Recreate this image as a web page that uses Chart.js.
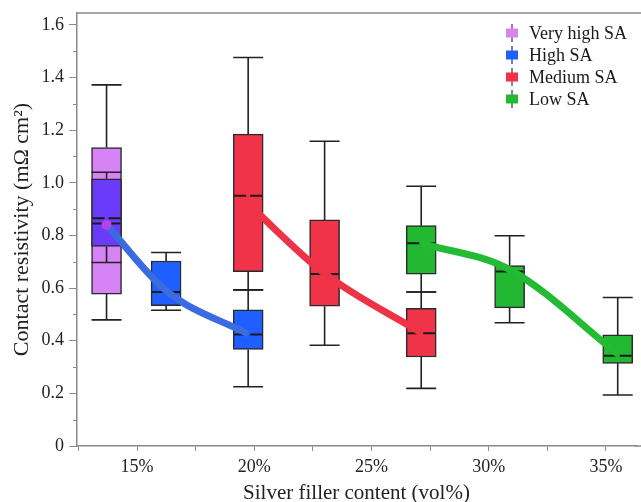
<!DOCTYPE html>
<html>
<head>
<meta charset="utf-8">
<script src="https://cdn.jsdelivr.net/npm/chart.js@4"></script>
<style>
  body { margin: 0; background: #fff; }
  #wrap { width: 641px; height: 502px; }
</style>
</head>
<body>
<div id="wrap"><canvas id="chart" width="641" height="502"></canvas></div>
<script>
// dados (box plots por série)
const seriesNames = ['Very high SA', 'High SA', 'Medium SA', 'Low SA'];
const seriesColors = ['#d683f6', '#1f5eff', '#f03349', '#22b832'];

const vhX = [13.7];
const vhMin = [0.479];
const vhQ1 = [0.577];
const vhMed = [0.865];
const vhQ3 = [1.134];
const vhMax = [1.372];

const hiX = [13.7, 16.24, 19.74];
const hiMin = [0.697, 0.516, 0.225];
const hiQ1 = [0.758, 0.533, 0.367];
const hiMed = [0.845, 0.585, 0.424];
const hiQ3 = [1.015, 0.703, 0.517];
const hiMax = [1.04, 0.735, 0.593];
const hiTrend = [0.84, 0.59, 0.425];

const mdX = [19.74, 23.0, 27.12];
const mdMin = [0.593, 0.383, 0.219];
const mdQ1 = [0.662, 0.531, 0.338];
const mdMed = [0.951, 0.653, 0.428];
const mdQ3 = [1.185, 0.859, 0.523];
const mdMax = [1.476, 1.158, 0.585];
const mdTrend = [0.92, 0.655, 0.43];

const loX = [27.12, 30.89, 35.5];
const loMin = [0.585, 0.468, 0.194];
const loQ1 = [0.653, 0.525, 0.314];
const loMed = [0.770, 0.663, 0.343];
const loQ3 = [0.837, 0.685, 0.422];
const loMax = [0.987, 0.799, 0.564];
const loTrend = [0.77, 0.67, 0.35];

const xTicks = [12.5, 15, 17.5, 20, 22.5, 25, 27.5, 30, 32.5, 35];
const yTicks = [0, 0.1, 0.2, 0.3, 0.4, 0.5, 0.6, 0.7, 0.8, 0.9, 1.0, 1.1, 1.2, 1.3, 1.4, 1.5, 1.6];

const serif = "'Liberation Serif', 'Times New Roman', serif";
const axisGray = '#8a8a8a';

function boxData(xs, q1, q3) {
  return xs.map((x, i) => ({ x: x, y: [q1[i], q3[i]] }));
}
function trendData(xs, ys) {
  return xs.map((x, i) => ({ x: x, y: ys[i] }));
}

function boxSet(label, xs, mn, q1, md, q3, mx, color, order) {
  return {
    type: 'bar',
    label: label,
    data: boxData(xs, q1, q3),
    whiskerMin: mn,
    whiskerMax: mx,
    medians: md,
    xs: xs,
    backgroundColor: color,
    borderColor: '#2a2a2a',
    borderWidth: 1.5,
    borderSkipped: false,
    barThickness: 30,
    grouped: false,
    order: order
  };
}

function trendSet(label, xs, ys, color, order) {
  return {
    type: 'line',
    label: label,
    data: trendData(xs, ys),
    borderColor: color,
    borderWidth: 7,
    cubicInterpolationMode: 'monotone',
    pointRadius: 0,
    fill: false,
    order: order
  };
}

const isMajorY = v => Math.round(v * 10) % 2 === 0;

// bigodes desenhados antes de cada caixa, medianas depois de todas as caixas
let mediansDone = false;
const boxPlugin = {
  id: 'boxPlugin',
  beforeDatasetsDraw() { mediansDone = false; },
  beforeDatasetDraw(chart, args) {
    const ctx = chart.ctx;
    const xs = chart.scales.x, ys = chart.scales.y;
    const ds = chart.data.datasets[args.index];
    if (args.meta.type === 'bar') {
      ctx.save();
      ctx.strokeStyle = '#222';
      ctx.lineWidth = 1.6;
      ds.xs.forEach((x, i) => {
        const px = xs.getPixelForValue(x);
        const lo = ys.getPixelForValue(ds.whiskerMin[i]);
        const hi = ys.getPixelForValue(ds.whiskerMax[i]);
        const b = ys.getPixelForValue(ds.data[i].y[0]);
        const t = ys.getPixelForValue(ds.data[i].y[1]);
        ctx.beginPath();
        ctx.moveTo(px, lo); ctx.lineTo(px, b);
        ctx.moveTo(px, t); ctx.lineTo(px, hi);
        ctx.moveTo(px - 15, lo); ctx.lineTo(px + 15, lo);
        ctx.moveTo(px - 15, hi); ctx.lineTo(px + 15, hi);
        ctx.stroke();
      });
      ctx.restore();
    } else if (!mediansDone) {
      mediansDone = true;
      ctx.save();
      ctx.strokeStyle = '#1a1a1a';
      ctx.lineWidth = 2;
      chart.data.datasets.forEach(d => {
        if (d.type !== 'bar') return;
        d.xs.forEach((x, i) => {
          const px = xs.getPixelForValue(x);
          const py = ys.getPixelForValue(d.medians[i]);
          ctx.beginPath();
          ctx.moveTo(px - 14, py); ctx.lineTo(px - 2, py);
          ctx.moveTo(px + 2, py); ctx.lineTo(px + 14, py);
          ctx.stroke();
        });
      });
      ctx.restore();
    }
  },
  afterDraw(chart) {
    const ctx = chart.ctx;
    const area = chart.chartArea;
    const ys = chart.scales.y;
    ctx.save();
    // moldura superior e prolongamento do eixo x até a borda
    ctx.strokeStyle = axisGray;
    ctx.lineWidth = 1.5;
    ctx.beginPath();
    ctx.moveTo(area.left, area.top);
    ctx.lineTo(641, area.top);
    ctx.moveTo(area.right - 1, area.bottom);
    ctx.lineTo(641, area.bottom);
    ctx.stroke();
    // ticks menores do eixo y
    ctx.lineWidth = 1;
    ctx.beginPath();
    yTicks.forEach(v => {
      if (isMajorY(v)) return;
      const py = Math.round(ys.getPixelForValue(v)) + 0.5;
      ctx.moveTo(area.left - 4, py);
      ctx.lineTo(area.left, py);
    });
    ctx.stroke();
    // legenda
    ctx.font = '18px ' + serif;
    ctx.textBaseline = 'middle';
    ctx.textAlign = 'left';
    seriesNames.forEach((name, i) => {
      const y = 33 + i * 22;
      const x = 512;
      ctx.strokeStyle = '#333';
      ctx.lineWidth = 1.2;
      ctx.beginPath();
      ctx.moveTo(x, y - 9); ctx.lineTo(x, y + 9);
      ctx.stroke();
      ctx.fillStyle = seriesColors[i];
      ctx.fillRect(x - 6, y - 4.5, 12, 9);
      ctx.fillStyle = '#1a1a1a';
      ctx.fillText(name, 529, y + 1);
    });
    ctx.restore();
  }
};

const vhColors = [seriesColors[0]];
const hiColors = ['#6a3cfa', seriesColors[1], seriesColors[1]];

const ctx = document.getElementById('chart').getContext('2d');
new Chart(ctx, {
  type: 'bar',
  data: {
    datasets: [
      boxSet(seriesNames[0], vhX, vhMin, vhQ1, vhMed, vhQ3, vhMax, vhColors, 10),
      boxSet(seriesNames[1], hiX, hiMin, hiQ1, hiMed, hiQ3, hiMax, hiColors, 9),
      boxSet(seriesNames[2], mdX, mdMin, mdQ1, mdMed, mdQ3, mdMax, seriesColors[2], 8),
      boxSet(seriesNames[3], loX, loMin, loQ1, loMed, loQ3, loMax, seriesColors[3], 7),
      Object.assign(trendSet('High trend', hiX, hiTrend, '#3b6be0', 3), {
        pointRadius: [5, 0, 0],
        pointBackgroundColor: '#b245e6',
        pointBorderWidth: 0
      }),
      trendSet('Medium trend', mdX, mdTrend, '#ee3347', 2),
      trendSet('Low trend', loX, loTrend, '#22bb33', 1)
    ]
  },
  options: {
    responsive: false,
    animation: false,
    layout: { padding: { top: 13, right: 0, left: 0, bottom: 0 } },
    plugins: {
      legend: { display: false },
      tooltip: { enabled: false }
    },
    scales: {
      x: {
        type: 'linear',
        offset: false,
        min: 12.44,
        max: 36.28,
        afterBuildTicks: scale => { scale.ticks = xTicks.map(v => ({ value: v })); },
        afterFit: scale => {
          scale.height = 56;
          scale.paddingLeft = 0;
          scale.paddingRight = 0;
        },
        grid: { offset: false, drawOnChartArea: false, color: axisGray, tickLength: 5 },
        border: { color: axisGray, width: 1.5 },
        ticks: {
          autoSkip: false,
          maxRotation: 0,
          padding: 5,
          color: '#222',
          font: { family: serif, size: 18 },
          callback: v => (v % 5 === 0 ? v + '%' : '')
        },
        title: {
          display: true,
          text: 'Silver filler content (vol%)',
          color: '#222',
          font: { family: serif, size: 21, lineHeight: 0.8 },
          padding: { top: 0, bottom: 0 }
        }
      },
      y: {
        min: 0,
        max: 1.645,
        afterBuildTicks: scale => { scale.ticks = yTicks.map(v => ({ value: v })); },
        afterFit: scale => {
          scale.width = 77;
          scale.paddingTop = 0;
          scale.paddingBottom = 0;
        },
        grid: {
          drawOnChartArea: false,
          color: axisGray,
          tickLength: 8,
          tickColor: c => (c.tick && isMajorY(c.tick.value) ? axisGray : 'rgba(0,0,0,0)')
        },
        border: { color: axisGray, width: 1.5 },
        ticks: {
          autoSkip: false,
          padding: 5,
          color: '#222',
          font: { family: serif, size: 18 },
          callback: v => {
            const k = Math.round(v * 10);
            if (k % 2 !== 0) return '';
            return k === 0 ? '0' : (k / 10).toFixed(1);
          }
        },
        title: {
          display: true,
          text: 'Contact resistivity (mΩ cm²)',
          color: '#222',
          font: { family: serif, size: 22, lineHeight: 1.2 },
          padding: { top: 9, bottom: 0 }
        }
      }
    }
  },
  plugins: [boxPlugin]
});
</script>
</body>
</html>
